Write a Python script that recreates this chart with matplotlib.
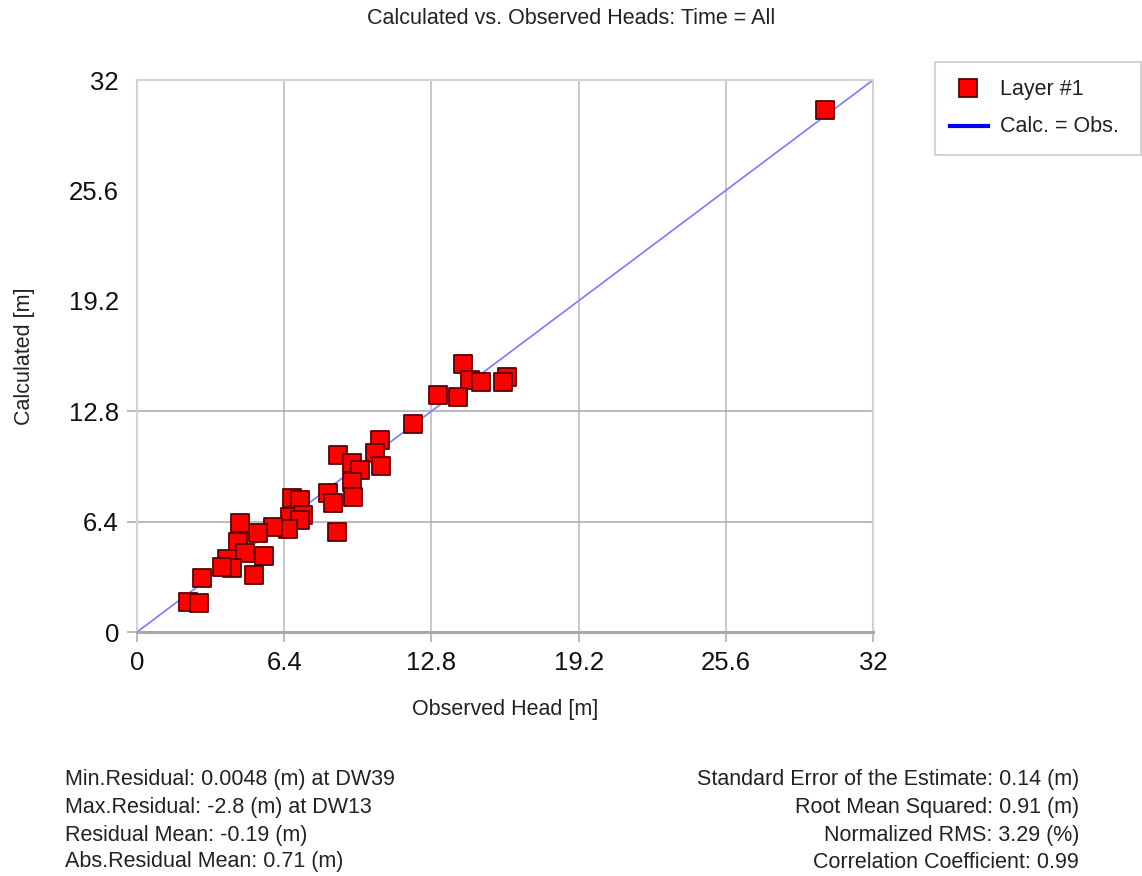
import matplotlib
matplotlib.use("Agg")
import matplotlib.pyplot as plt
from matplotlib.lines import Line2D
from matplotlib.patches import Rectangle

plt.rcParams["font.family"] = ["Liberation Sans", "DejaVu Sans"]

# Observed vs calculated heads (m), one square per observation well
observed = [14.16, 14.48, 14.94, 16.07, 15.93, 13.10, 13.97, 12.01, 10.57, 10.35,
            10.60, 8.75, 9.33, 9.70, 9.33, 9.38, 8.32, 8.54, 8.68, 6.73,
            7.09, 6.65, 7.23, 7.09, 6.58, 5.93, 5.28, 4.48, 4.41, 4.70,
            5.54, 5.09, 3.90, 4.12, 3.68, 2.81, 2.23, 2.71, 29.91]
calculated = [15.54, 14.61, 14.51, 14.76, 14.51, 13.74, 13.64, 12.04, 11.13, 10.36,
              9.62, 10.26, 9.78, 9.39, 8.71, 7.84, 8.04, 7.50, 5.81, 7.75,
              7.65, 6.69, 6.78, 6.49, 5.95, 6.11, 5.76, 6.30, 5.24, 4.56,
              4.41, 3.30, 4.21, 3.69, 3.79, 3.11, 1.76, 1.66, 30.26]

ticks = [0, 6.4, 12.8, 19.2, 25.6, 32]
tick_labels = ["0", "6.4", "12.8", "19.2", "25.6", "32"]
y_grid = [6.4, 12.8]
x_grid = [6.4, 12.8, 19.2, 25.6]

left_stats = ["Min.Residual: 0.0048 (m) at DW39",
              "Max.Residual: -2.8 (m) at DW13",
              "Residual Mean: -0.19 (m)",
              "Abs.Residual Mean: 0.71 (m)"]
right_stats = ["Standard Error of the Estimate: 0.14 (m)",
               "Root Mean Squared: 0.91 (m)",
               "Normalized RMS: 3.29 (%)",
               "Correlation Coefficient: 0.99"]

W, H = 1142, 876
fig = plt.figure(figsize=(W / 100, H / 100), dpi=100)
ax = fig.add_axes([137 / W, 1 - 632 / H, 736 / W, 552 / H])
ax.set_xlim(0, 32)
ax.set_ylim(0, 32)

for side in ("top", "right", "left"):
    ax.spines[side].set_color("#d2d2d2")
    ax.spines[side].set_linewidth(1.5)
ax.spines["bottom"].set_color("#a8a8a8")
ax.spines["bottom"].set_linewidth(2.2)

for gx in x_grid:
    ax.axvline(gx, color="#b8b8b8", lw=1.1, zorder=1)
for gy in y_grid:
    ax.axhline(gy, color="#a8a8a8", lw=1.1, zorder=1)

ax.set_xticks(ticks)
ax.set_xticklabels(tick_labels)
ax.set_yticks(ticks)
ax.set_yticklabels(tick_labels)
ax.tick_params(axis="both", length=7, width=1.1, color="#a8a8a8",
               labelsize=18.5, labelcolor="#111111")
ax.tick_params(axis="x", pad=7)
ax.tick_params(axis="y", pad=6)
for val, tk in zip(ticks, ax.yaxis.get_major_ticks()):
    if val not in [0] + y_grid:
        tk.tick1line.set_visible(False)

# 1:1 reference line
ax.plot([ticks[0], ticks[-1]], [ticks[0], ticks[-1]], color="#8383ff", lw=1.3, zorder=2)

ax.scatter(observed, calculated, marker="s", s=185, c="#ff0000",
           edgecolors="#5a0000", linewidths=1.3, zorder=3, clip_on=False)

ax.set_xlabel("Observed Head [m]", fontsize=15.5, color="#222222", labelpad=17)
ax.set_ylabel("Calculated [m]", fontsize=15.5, color="#222222", labelpad=24)

fig.text(0.5, 1 - 18 / H, "Calculated vs. Observed Heads: Time = All",
         ha="center", va="center", fontsize=15.5, color="#222222")

# Legend box
fig.add_artist(Rectangle((935 / W, 1 - 155 / H), 206 / W, 93 / H,
                         transform=fig.transFigure, fill=False,
                         edgecolor="#d4d4d4", lw=1.5))
fig.add_artist(Line2D([968 / W], [1 - 88 / H], marker="s", markersize=12.5,
                      markerfacecolor="#ff0000", markeredgecolor="#5a0000",
                      markeredgewidth=1.3, transform=fig.transFigure))
fig.add_artist(Line2D([950 / W, 988 / W], [1 - 126 / H, 1 - 126 / H],
                      color="#0000ff", lw=3, transform=fig.transFigure))
fig.text(1000 / W, 1 - 89 / H, "Layer #1", ha="left", va="center",
         fontsize=15.5, color="#222222")
fig.text(1000 / W, 1 - 127 / H, "Calc. = Obs.", ha="left", va="center",
         fontsize=15.5, color="#222222")

# Statistics
line_y = [779, 807, 835, 862]
for txt, yy in zip(left_stats, line_y):
    fig.text(65 / W, 1 - yy / H, txt, ha="left", va="center",
             fontsize=15.5, color="#222222")
for txt, yy in zip(right_stats, line_y):
    fig.text(1079 / W, 1 - yy / H, txt, ha="right", va="center",
             fontsize=15.5, color="#222222")

fig.savefig("out.png", dpi=100, facecolor="white")
